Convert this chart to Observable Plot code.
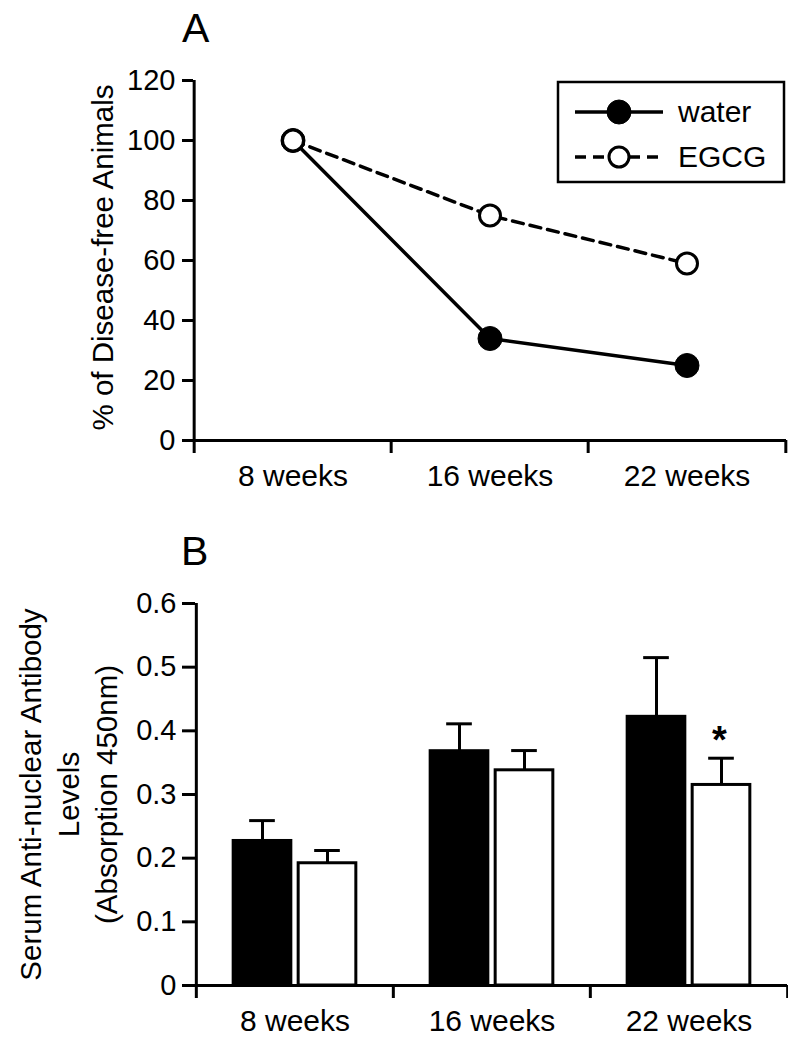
<!DOCTYPE html>
<html><head><meta charset="utf-8">
<script src="https://cdn.jsdelivr.net/npm/d3@7"></script>
<script src="https://cdn.jsdelivr.net/npm/@observablehq/plot@0.6"></script>
<style>
html,body{margin:0;padding:0;background:#fff;}
#root{position:relative;width:788px;height:1050px;overflow:hidden;background:#fff;}
#root > svg{position:absolute;left:0;}
</style></head><body><div id="root"></div>
<script>
// ---------- data ----------
const weeks = ["8 weeks", "16 weeks", "22 weeks"];
const groups = ["water", "EGCG"];
// Panel A: % of disease-free animals
const diseaseFreeWater = [100, 34, 25];
const diseaseFreeEGCG = [100, 75, 59];
const yTicksA = [0, 20, 40, 60, 80, 100, 120];
// Panel B: serum anti-nuclear antibody levels (mean, SE)
const anaWater = [0.227, 0.368, 0.422];
const anaWaterErr = [0.032, 0.043, 0.093];
const anaEGCG = [0.192, 0.338, 0.315];
const anaEGCGErr = [0.020, 0.031, 0.042];
const significance = ["", "", "*"];
const yTicksB = [0, 0.1, 0.2, 0.3, 0.4, 0.5, 0.6];

const FONT = '"Liberation Sans", Arial, Helvetica, sans-serif';
const root = document.getElementById("root");

// ---------- Panel A ----------
const WA = 788, HA = 520, mlA = 193, mrA = 2, mtA = 80, mbA = 80;
const bwA = (WA - mlA - mrA) / weeks.length;
const waterA = weeks.map((w, i) => ({week: w, value: diseaseFreeWater[i]}));
const egcgA = weeks.map((w, i) => ({week: w, value: diseaseFreeEGCG[i]}));

const plotA = Plot.plot({
  width: WA, height: HA,
  marginLeft: mlA, marginRight: mrA, marginTop: mtA, marginBottom: mbA,
  style: {fontFamily: FONT, background: "white", color: "black", overflow: "visible"},
  x: {type: "band", domain: weeks, padding: 0},
  y: {domain: [0, 120]},
  marks: [
    Plot.axisY({ticks: yTicksA, tickSize: 11, tickPadding: 7, strokeWidth: 3, fontSize: 29, label: null}),
    Plot.axisX({tickSize: 0, tickPadding: 24, fontSize: 30, label: null}),
    Plot.ruleX([weeks[0]], {x: d => d, dx: -bwA / 2, strokeWidth: 3}),
    Plot.ruleY([0], {strokeWidth: 3}),
    Plot.ruleX(weeks, {x: d => d, dx: -bwA / 2, y1: () => 0, y2: () => 0, insetBottom: -13, strokeWidth: 3}),
    Plot.ruleX([weeks[weeks.length - 1]], {x: d => d, dx: bwA / 2, y1: () => 0, y2: () => 0, insetBottom: -13, strokeWidth: 3}),
    Plot.text(["% of Disease-free Animals"], {text: d => d, frameAnchor: "left", textAnchor: "middle", dx: -90, dy: -3, rotate: -90, fontSize: 29.5}),
    Plot.line(waterA, {x: "week", y: "value", stroke: "black", strokeWidth: 3.5}),
    Plot.line(egcgA, {x: "week", y: "value", stroke: "black", strokeWidth: 3.5, strokeDasharray: "11,7"}),
    Plot.dot(waterA, {x: "week", y: "value", r: 12, fill: "black", stroke: "black", strokeWidth: 1}),
    Plot.dot(egcgA, {x: "week", y: "value", r: 10.5, fill: "white", stroke: "black", strokeWidth: 3})
  ]
});
plotA.style.top = "0px";
root.appendChild(plotA);

// ---------- Panel B ----------
const WB = 788, HB = 530, mlB = 195, mrB = 1, mtB = 83, mbB = 65;
const bwB = (WB - mlB - mrB) / weeks.length;
const offset = 32.5, barW = 58, capW = 26;
const waterB = weeks.map((w, i) => ({week: w, value: anaWater[i], upper: anaWater[i] + anaWaterErr[i]}));
const egcgB = weeks.map((w, i) => ({week: w, value: anaEGCG[i], upper: anaEGCG[i] + anaEGCGErr[i], sig: significance[i]}));
const cL = bwB / 2 - offset, cR = bwB / 2 + offset;

const plotB = Plot.plot({
  width: WB, height: HB,
  marginLeft: mlB, marginRight: mrB, marginTop: mtB, marginBottom: mbB,
  style: {fontFamily: FONT, background: "white", color: "black", overflow: "visible"},
  x: {type: "band", domain: weeks, padding: 0},
  y: {domain: [0, 0.6]},
  marks: [
    Plot.axisY({ticks: yTicksB, tickFormat: d => String(d), tickSize: 13, tickPadding: 6, strokeWidth: 3, fontSize: 29, label: null}),
    Plot.axisX({tickSize: 0, tickPadding: 24, fontSize: 30, label: null}),
    Plot.ruleX([weeks[0]], {x: d => d, dx: -bwB / 2, strokeWidth: 3}),
    Plot.text(["Serum Anti-nuclear Antibody\nLevels\n(Absorption 450nm)"], {text: d => d, frameAnchor: "left", textAnchor: "middle", dx: -129, rotate: -90, fontSize: 29.5, lineHeight: 1.29}),
    // error bars
    Plot.ruleX(waterB, {x: "week", y1: "value", y2: "upper", dx: -offset, strokeWidth: 3}),
    Plot.ruleX(egcgB, {x: "week", y1: "value", y2: "upper", dx: offset, strokeWidth: 3}),
    Plot.tickY(waterB, {x: "week", y: "upper", insetLeft: cL - capW / 2, insetRight: bwB - cL - capW / 2, strokeWidth: 3}),
    Plot.tickY(egcgB, {x: "week", y: "upper", insetLeft: cR - capW / 2, insetRight: bwB - cR - capW / 2, strokeWidth: 3}),
    // bars
    Plot.barY(waterB, {x: "week", y: "value", fill: "black", stroke: "black", strokeWidth: 3,
      insetLeft: cL - barW / 2, insetRight: bwB - cL - barW / 2}),
    Plot.barY(egcgB, {x: "week", y: "value", fill: "white", stroke: "black", strokeWidth: 3,
      insetLeft: cR - barW / 2, insetRight: bwB - cR - barW / 2}),
    Plot.ruleY([0], {strokeWidth: 3}),
    Plot.ruleX(weeks, {x: d => d, dx: -bwB / 2, y1: () => 0, y2: () => 0, insetBottom: -13, strokeWidth: 3}),
    Plot.ruleX([weeks[weeks.length - 1]], {x: d => d, dx: bwB / 2, y1: () => 0, y2: () => 0, insetBottom: -13, strokeWidth: 3}),
    Plot.text(egcgB.filter(d => d.sig), {x: "week", y: "upper", text: "sig", dx: offset - 2, dy: -17, fontSize: 38, fontWeight: "bold"})
  ]
});
plotB.style.top = "520px";
root.appendChild(plotB);

// ---------- panel letters and legend ----------
const ov = d3.select(root).append("svg")
  .attr("width", 788).attr("height", 1050)
  .style("top", "0px").style("pointer-events", "none")
  .style("font-family", FONT);
ov.append("text").attr("x", 182).attr("y", 42).attr("font-size", 41).text("A");
ov.append("text").attr("x", 181).attr("y", 565).attr("font-size", 41).text("B");

const lg = ov.append("g");
lg.append("rect").attr("x", 558).attr("y", 82).attr("width", 226).attr("height", 100)
  .attr("fill", "white").attr("stroke", "black").attr("stroke-width", 2.5);
const rows = [
  {name: groups[0], y: 112, dash: null, fill: "black", r: 12, sw: 1},
  {name: groups[1], y: 157, dash: "11,7", fill: "white", r: 10, sw: 3}
];
rows.forEach(rw => {
  const ln = lg.append("line").attr("x1", 575).attr("x2", 663).attr("y1", rw.y).attr("y2", rw.y)
    .attr("stroke", "black").attr("stroke-width", 3.5);
  if (rw.dash) ln.attr("stroke-dasharray", rw.dash);
  lg.append("circle").attr("cx", 619).attr("cy", rw.y).attr("r", rw.r)
    .attr("fill", rw.fill).attr("stroke", "black").attr("stroke-width", rw.sw);
  lg.append("text").attr("x", 678).attr("y", rw.y + 10).attr("font-size", 30).text(rw.name);
});
</script>
</body></html>
